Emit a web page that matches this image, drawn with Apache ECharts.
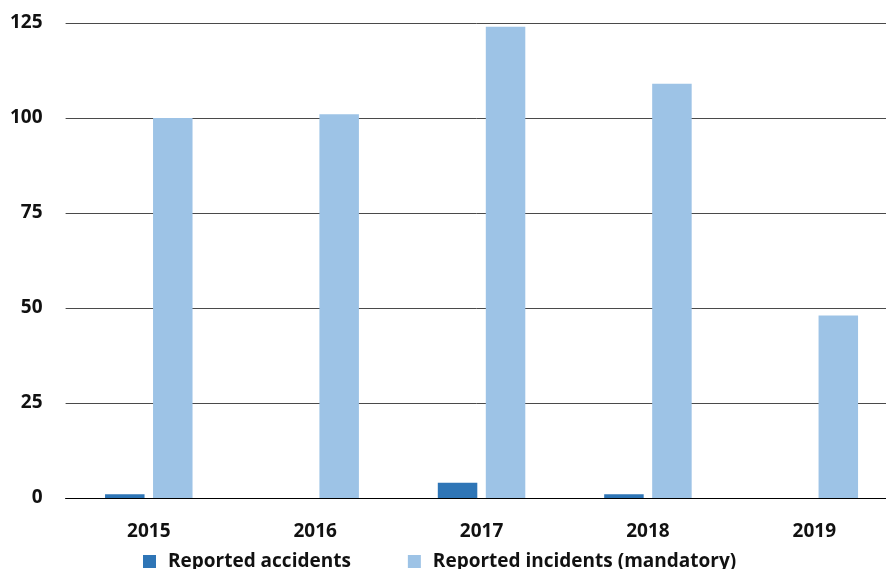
<!DOCTYPE html>
<html>
<head>
<meta charset="utf-8">
<script src="https://cdn.jsdelivr.net/npm/echarts@6/dist/echarts.min.js"></script>
<style>
  html, body { margin: 0; padding: 0; background: #fff; }
  #chart { width: 886px; height: 569px; }
</style>
</head>
<body>
<div id="chart"></div>
<script>
// Yearly counts of reported accidents and mandatory incident reports
const years = ['2015', '2016', '2017', '2018', '2019'];
const accidents = [1, 0, 4, 1, 0];
const incidents = [100, 101, 124, 109, 48];
const yTicks = { min: 0, max: 125, interval: 25 };

const font = '"Open Sans", "Noto Sans", sans-serif';
const labelStyle = { fontFamily: font, fontSize: 19, fontWeight: 'bold', color: '#111' };
const chart = echarts.init(document.getElementById('chart'));

chart.setOption({
  animation: false,
  // the plot area runs slightly past the right edge of the canvas
  grid: { left: 65.6, top: 23, right: -11.5, bottom: 71, containLabel: false, outerBoundsMode: 'none' },
  legend: {
    left: 138,
    top: 547,
    itemWidth: 13,
    itemHeight: 13,
    itemGap: 57,
    icon: 'rect',
    textStyle: Object.assign({}, labelStyle, { padding: [0, 0, 0, 7] }),
    data: ['Reported accidents', 'Reported incidents (mandatory)']
  },
  xAxis: {
    type: 'category',
    data: years,
    axisLine: { lineStyle: { color: '#000', width: 1 } },
    axisTick: { show: false },
    axisLabel: Object.assign({ margin: 24 }, labelStyle)
  },
  yAxis: {
    type: 'value',
    min: yTicks.min,
    max: yTicks.max,
    interval: yTicks.interval,
    axisLine: { show: false },
    axisTick: { show: false },
    splitLine: { lineStyle: { color: '#4a4a4a', width: 1 } },
    axisLabel: Object.assign({ margin: 23 }, labelStyle)
  },
  series: [
    {
      name: 'Reported accidents',
      type: 'bar',
      data: accidents,
      barWidth: 39.5,
      barGap: '21.5%',
      itemStyle: { color: '#2e75b6' }
    },
    {
      name: 'Reported incidents (mandatory)',
      type: 'bar',
      data: incidents,
      barWidth: 39.5,
      barGap: '21.5%',
      itemStyle: { color: '#9dc3e6' }
    }
  ]
});
</script>
</body>
</html>
